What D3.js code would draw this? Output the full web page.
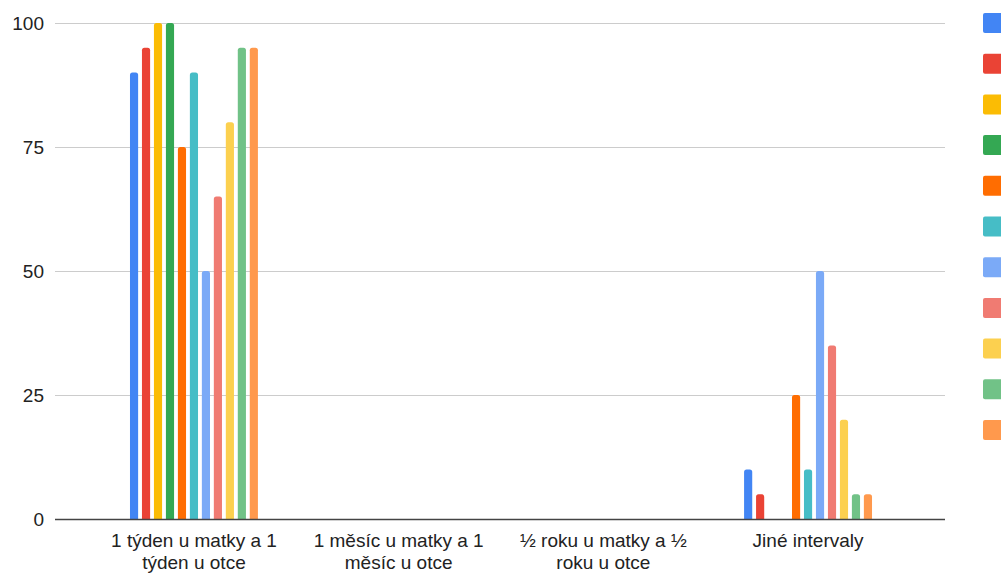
<!DOCTYPE html>
<html>
<head>
  <meta charset="utf-8">
  <title>Grouped bars</title>
  <style>
  body { margin: 0; background: #fff; }
  text { font-family: "Liberation Sans", Arial, sans-serif; fill: #222; }
  .grid line { stroke: #cccccc; stroke-width: 1; }
  </style>
</head>
<body>
  <div id="chart"></div>
  <script src="https://d3js.org/d3.v7.min.js"></script>
  <script type="text/javascript">
    var width = 1001;
    var height = 574;

    var categories = [
      ["1 týden u matky a 1", "týden u otce"],
      ["1 měsíc u matky a 1", "měsíc u otce"],
      ["½ roku u matky a ½", "roku u otce"],
      ["Jiné intervaly"]
    ];
    var series = ["s1", "s2", "s3", "s4", "s5", "s6", "s7", "s8", "s9", "s10", "s11"];
    var colors = ["#4285f4", "#ea4335", "#fbbc04", "#34a853", "#ff6d01", "#46bdc6",
                  "#7baaf7", "#f07b72", "#fcd04f", "#71c287", "#ff994d"];
    // one row per series, one value per category
    var values = [
      [90, 0, 0, 10],
      [95, 0, 0, 5],
      [100, 0, 0, 0],
      [100, 0, 0, 0],
      [75, 0, 0, 25],
      [90, 0, 0, 10],
      [50, 0, 0, 50],
      [65, 0, 0, 35],
      [80, 0, 0, 20],
      [95, 0, 0, 5],
      [95, 0, 0, 5]
    ];
    var yTicks = [0, 25, 50, 75, 100];

    var plotLeft = 55, plotRight = 945;

    var svg = d3.select("#chart").append("svg")
        .attr("width", width)
        .attr("height", height);

    var y = d3.scaleLinear().domain([0, 100]).range([519, 23]);

    var x0 = d3.scaleBand()
        .domain(d3.range(categories.length))
        .range([91.6, 910.4])
        .paddingInner(0.375)
        .paddingOuter(0.1875);

    var x1 = d3.scaleBand()
        .domain(series)
        .range([0, x0.bandwidth()])
        .paddingInner(0.32);

    // grid
    svg.append("g")
        .attr("class", "grid")
      .selectAll("line")
      .data(yTicks.slice(1))
      .enter().append("line")
        .attr("x1", plotLeft)
        .attr("x2", plotRight)
        .attr("y1", function(d) { return y(d) + 0.5; })
        .attr("y2", function(d) { return y(d) + 0.5; });

    svg.append("g")
      .selectAll("text")
      .data(yTicks)
      .enter().append("text")
        .attr("x", 44)
        .attr("y", function(d) { return y(d); })
        .attr("dy", "0.35em")
        .attr("text-anchor", "end")
        .attr("font-size", 19)
        .text(function(d) { return d; });

    function barPath(x, w, top, bottom) {
      var h = bottom - top;
      if (h <= 0) return "";
      var r = Math.min(2.5, h, w / 2);
      return "M" + x + "," + bottom +
        "V" + (top + r) +
        "Q" + x + "," + top + " " + (x + r) + "," + top +
        "H" + (x + w - r) +
        "Q" + (x + w) + "," + top + " " + (x + w) + "," + (top + r) +
        "V" + bottom + "Z";
    }

    var bars = [];
    series.forEach(function(s, si) {
      values[si].forEach(function(v, ci) {
        bars.push({s: s, si: si, ci: ci, v: v});
      });
    });

    svg.append("g")
      .selectAll("path")
      .data(bars.filter(function(d) { return d.v > 0; }))
      .enter().append("path")
        .attr("fill", function(d) { return colors[d.si]; })
        .attr("d", function(d) {
          return barPath(x0(d.ci) + x1(d.s), x1.bandwidth(), y(d.v), y(0));
        });

    // baseline
    svg.append("line")
        .attr("x1", plotLeft)
        .attr("x2", plotRight)
        .attr("y1", y(0) + 0.5)
        .attr("y2", y(0) + 0.5)
        .attr("stroke", "#444")
        .attr("stroke-width", 1.5);

    // category labels
    var lab = svg.append("g")
      .selectAll("text")
      .data(categories)
      .enter().append("text")
        .attr("text-anchor", "middle")
        .attr("font-size", 19)
        .attr("transform", function(d, i) {
          return "translate(" + (x0(i) + x0.bandwidth() / 2) + ",547)";
        });
    lab.selectAll("tspan")
      .data(function(d) { return d; })
      .enter().append("tspan")
        .attr("x", 0)
        .attr("y", function(d, i) { return i * 22; })
        .text(function(d) { return d; });

    // legend swatches (labels fall outside the visible area)
    svg.append("g")
      .selectAll("rect")
      .data(series)
      .enter().append("rect")
        .attr("x", 983)
        .attr("y", function(d, i) { return 13 + i * 40.7; })
        .attr("width", 24)
        .attr("height", 20)
        .attr("rx", 2)
        .attr("fill", function(d, i) { return colors[i]; });
  </script>
</body>
</html>
